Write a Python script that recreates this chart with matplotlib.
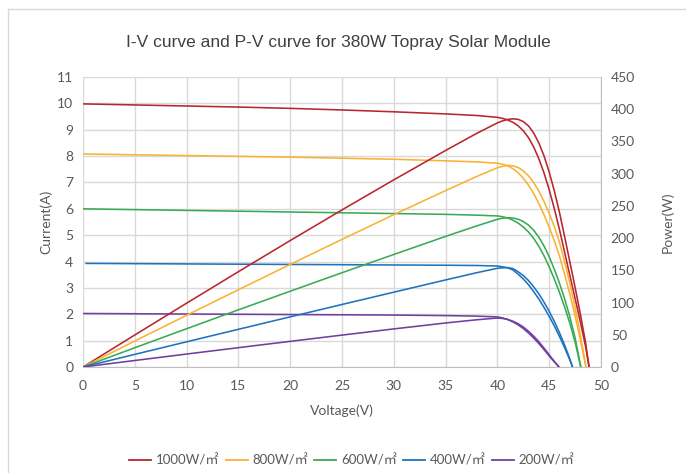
import matplotlib
matplotlib.use("Agg")
import matplotlib.pyplot as plt
from matplotlib.lines import Line2D

# ---------------- data ----------------
labels = ["1000W/㎡", "800W/㎡", "600W/㎡", "400W/㎡", "200W/㎡"]
colors = ["#B8262E", "#F9B233", "#3AAA55", "#1E73BE", "#7040A0"]

v_1000 = [0, 5, 10, 15, 20, 25, 30, 35, 38, 40, 40.5, 41, 41.5, 42, 42.5, 43, 43.5, 44, 44.5, 45, 45.5, 46, 46.5, 47, 47.5, 48, 48.5, 48.85]
i_1000 = [9.98, 9.94, 9.9, 9.86, 9.81, 9.75, 9.68, 9.6, 9.54, 9.47, 9.43, 9.37, 9.28, 9.15, 8.96, 8.7, 8.35, 7.9, 7.36, 6.72, 6.0, 5.2, 4.33, 3.46, 2.6, 1.72, 0.8, 0]
p_1000 = [0, 49.7, 99, 147.9, 196.2, 243.8, 290.4, 336, 362.5, 378.8, 381.9, 384.2, 385.1, 384.3, 380.8, 374.1, 363.2, 347.6, 327.5, 302.4, 273, 239.2, 201.3, 162.6, 123.5, 82.6, 38.8, 0]

v_800 = [0, 5, 10, 15, 20, 25, 30, 35, 38, 40, 40.5, 41, 41.5, 42, 42.5, 43, 43.5, 44, 44.5, 45, 45.5, 46, 46.5, 47, 47.5, 48, 48.55]
i_800 = [8.08, 8.05, 8.02, 7.99, 7.96, 7.92, 7.88, 7.82, 7.78, 7.73, 7.69, 7.63, 7.52, 7.37, 7.16, 6.9, 6.58, 6.2, 5.77, 5.3, 4.78, 4.2, 3.5, 2.75, 1.95, 1.05, 0]
p_800 = [0, 40.3, 80.2, 119.9, 159.2, 198, 236.4, 273.7, 295.6, 309.2, 311.4, 312.8, 312.1, 309.5, 304.3, 296.7, 286.2, 272.8, 256.8, 238.5, 217.5, 193.2, 162.8, 129.3, 92.6, 50.4, 0]

v_600 = [0, 5, 10, 15, 20, 25, 30, 35, 38, 40, 40.5, 41, 41.5, 42, 42.5, 43, 43.5, 44, 44.5, 45, 45.5, 46, 46.5, 47, 47.5, 48.05]
i_600 = [6.0, 5.97, 5.94, 5.91, 5.88, 5.85, 5.82, 5.79, 5.76, 5.73, 5.7, 5.65, 5.57, 5.46, 5.31, 5.12, 4.88, 4.58, 4.22, 3.8, 3.33, 2.82, 2.26, 1.65, 0.95, 0]
p_600 = [0, 29.9, 59.4, 88.7, 117.6, 146.3, 174.6, 202.7, 218.9, 229.2, 230.9, 231.7, 231.2, 229.3, 225.7, 220.2, 212.3, 201.5, 187.8, 171, 151.5, 129.7, 105.1, 77.6, 45.1, 0]

v_400 = [0.3, 5, 10, 15, 20, 25, 30, 35, 38, 40, 40.5, 41, 41.5, 42, 42.5, 43, 43.5, 44, 44.5, 45, 45.5, 46, 46.5, 47, 47.25]
i_400 = [3.93, 3.92, 3.91, 3.9, 3.89, 3.88, 3.87, 3.86, 3.85, 3.83, 3.8, 3.76, 3.68, 3.52, 3.34, 3.12, 2.86, 2.58, 2.26, 1.92, 1.55, 1.15, 0.72, 0.26, 0]
v_400p = [0, 5, 10, 15, 20, 25, 30, 35, 38, 40, 40.5, 41, 41.5, 42, 42.5, 43, 43.5, 44, 44.5, 45, 45.5, 46, 46.5, 47, 47.25]
p_400 = [0, 19.6, 39.1, 58.5, 77.8, 97, 116.1, 135.1, 146.3, 153.2, 153.9, 154.2, 152.7, 147.8, 142, 134.2, 124.4, 113.5, 100.6, 86.4, 70.5, 52.9, 33.5, 12.2, 0]

v_200 = [0, 5, 10, 15, 20, 25, 30, 35, 38, 40, 40.5, 41, 41.5, 42, 42.5, 43, 43.5, 44, 44.5, 45, 45.5, 45.95]
i_200 = [2.03, 2.02, 2.01, 2.0, 1.99, 1.98, 1.97, 1.95, 1.93, 1.9, 1.86, 1.8, 1.71, 1.6, 1.46, 1.29, 1.1, 0.89, 0.66, 0.42, 0.19, 0]
p_200 = [0, 10.1, 20.1, 30, 39.8, 49.5, 59.1, 68.3, 73.3, 76, 75.3, 73.8, 71, 67.2, 62.1, 55.5, 47.9, 39.2, 29.4, 18.9, 8.6, 0]

iv_series = [(v_1000, i_1000), (v_800, i_800), (v_600, i_600), (v_400, i_400), (v_200, i_200)]
pv_series = [(v_1000, p_1000), (v_800, p_800), (v_600, p_600), (v_400p, p_400), (v_200, p_200)]

x_ticks = list(range(0, 51, 5))
i_ticks = list(range(0, 12))
p_ticks = list(range(0, 451, 50))

# ---------------- style ----------------
tick_font = ["Lato", "DejaVu Sans"]
leg_font = ["Lato", "Noto Sans CJK SC", "DejaVu Sans"]
gray_txt = "#595959"
grid_c = "#D9D9D9"

fig = plt.figure(figsize=(6.86, 4.73), dpi=100)
ax = fig.add_axes([83/686, 1-367/473, (601-83)/686, (367-77)/473])
ax2 = ax.twinx()

lw = 1.15
for (v, i), c in zip(iv_series, colors):
    ax.plot(v, i, color=c, lw=lw, solid_joinstyle="round")
for (v, p), c in zip(pv_series, colors):
    ax2.plot(v, p, color=c, lw=lw, solid_joinstyle="round")

ax.set_xlim(0, 50)
ax.set_ylim(0, 11)
ax2.set_ylim(0, 450)
ax.set_xticks(x_ticks)
ax.set_yticks(i_ticks)
ax2.set_yticks(p_ticks)

ax.grid(True, color=grid_c, lw=1.0)
ax.set_axisbelow(True)
for a in (ax, ax2):
    a.tick_params(length=0, labelsize=10, labelcolor=gray_txt)
    for s in a.spines.values():
        s.set_visible(False)
    for lab in a.get_xticklabels() + a.get_yticklabels():
        lab.set_family(tick_font)
ax2.spines["right"].set_visible(True)
ax2.spines["right"].set_color("#BFBFBF")
ax.spines["bottom"].set_visible(True)
ax.spines["bottom"].set_color("#BFBFBF")
ax.tick_params(axis="x", pad=9)
ax.tick_params(axis="y", pad=7)
ax2.tick_params(axis="y", pad=7)

ax.set_xlabel("Voltage(V)", fontsize=10, color=gray_txt, family=tick_font, labelpad=9)
ax.set_ylabel("Current(A)", fontsize=10, color=gray_txt, family=tick_font, labelpad=3.5)
ax2.set_ylabel("Power(W)", fontsize=10, color=gray_txt, family=tick_font, labelpad=19)

fig.text(0.493, 1-42/473, "I-V curve and P-V curve for 380W Topray Solar Module",
         ha="center", va="center", fontsize=12.5, color="#404040",
         family=["Liberation Sans", "DejaVu Sans"])

handles = [Line2D([], [], color=c, lw=1.3) for c in colors]
fig.legend(handles, labels, loc="center", bbox_to_anchor=(0.513, 1-460/473), ncol=5,
           frameon=False, prop={"family": leg_font, "size": 9.5}, handlelength=1.65,
           handletextpad=0.38, columnspacing=0.45, labelcolor=gray_txt)

# outer chart border (top and left edges)
fig.add_artist(Line2D([8/686, 1], [1-9/473, 1-9/473], color=grid_c, lw=1.0, transform=fig.transFigure))
fig.add_artist(Line2D([8/686, 8/686], [0, 1-9/473], color=grid_c, lw=1.0, transform=fig.transFigure))

fig.savefig("out.png", dpi=100)
